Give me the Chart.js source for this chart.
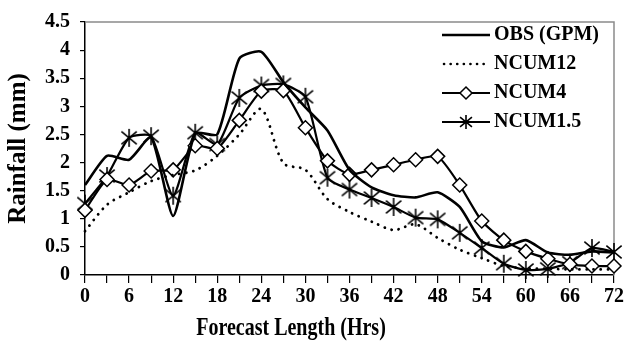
<!DOCTYPE html>
<html><head><meta charset="utf-8">
<script src="https://cdn.jsdelivr.net/npm/chart.js@4"></script>
<style>html,body{margin:0;padding:0;background:#fff}</style>
</head><body>
<canvas id="c" width="627" height="342"></canvas>
<script>
const hours = [0,3,6,9,12,15,18,21,24,27,30,33,36,39,42,45,48,51,54,57,60,63,66,69,72];
const xTickLabels = ['0','6','12','18','24','30','36','42','48','54','60','66','72'];
const yTickLabels = ['0','0.5','1','1.5','2','2.5','3','3.5','4','4.5'];
const seriesNames = ['OBS (GPM)','NCUM12','NCUM4','NCUM1.5'];
const xTitle = 'Forecast Length (Hrs)';
const yTitle = 'Rainfall (mm)';
const obs    = [1.60,2.12,2.05,2.45,1.05,2.52,2.50,3.85,3.97,3.43,2.98,2.57,1.87,1.56,1.42,1.38,1.47,1.21,0.60,0.49,0.62,0.40,0.36,0.42,0.40];
const ncum12 = [0.78,1.25,1.47,1.67,1.78,1.86,2.12,2.50,2.95,1.99,1.87,1.35,1.12,0.95,0.80,0.90,0.66,0.45,0.30,0.16,0.12,0.11,0.10,0.10,0.10];
const ncum4  = [1.15,1.70,1.60,1.85,1.87,2.30,2.25,2.75,3.27,3.28,2.62,2.03,1.79,1.87,1.96,2.05,2.11,1.60,0.96,0.62,0.42,0.29,0.19,0.16,0.16];
const ncum15 = [1.27,1.76,2.44,2.47,1.41,2.53,2.32,3.15,3.37,3.39,3.17,1.73,1.52,1.37,1.21,1.02,0.99,0.75,0.48,0.20,0.09,0.11,0.22,0.48,0.41];

const FONT = "'Liberation Serif','Times New Roman',serif";

function drawStar(g, cx, cy, r, lw) {
  g.save(); g.strokeStyle = '#000'; g.lineWidth = lw;
  g.beginPath();
  g.moveTo(cx, cy - r); g.lineTo(cx, cy + r);
  const dx = r * 0.85, dy = r * 0.7;
  g.moveTo(cx - dx, cy - dy); g.lineTo(cx + dx, cy + dy);
  g.moveTo(cx + dx, cy - dy); g.lineTo(cx - dx, cy + dy);
  g.stroke(); g.restore();
}
function makeStar(size) {
  const c = document.createElement('canvas'); c.width = size; c.height = size;
  drawStar(c.getContext('2d'), size / 2, size / 2, size / 2 - 1, 1.6);
  return c;
}
function makeIcon(kind) {
  const w = 48, h = 20;
  const c = document.createElement('canvas'); c.width = w; c.height = h;
  const g = c.getContext('2d'); g.strokeStyle = '#000';
  const y = h / 2;
  if (kind === 'dot') {
    g.lineWidth = 2.6; g.lineCap = 'round'; g.setLineDash([0.1, 6.5]);
    g.beginPath(); g.moveTo(2, y); g.lineTo(w - 2, y); g.stroke();
  } else {
    g.lineWidth = kind === 'solid' ? 2.6 : 2.2;
    g.beginPath(); g.moveTo(0, y); g.lineTo(w, y); g.stroke();
  }
  if (kind === 'diamond') {
    g.fillStyle = '#fff'; g.lineWidth = 1.5;
    g.beginPath(); g.moveTo(w/2, y - 6); g.lineTo(w/2 + 6, y); g.lineTo(w/2, y + 6); g.lineTo(w/2 - 6, y); g.closePath();
    g.fill(); g.stroke();
  }
  if (kind === 'star') drawStar(g, w / 2, y, 7, 1.6);
  return c;
}
const legendIcons = [makeIcon('solid'), makeIcon('dot'), makeIcon('diamond'), makeIcon('star')];
const starImg = makeStar(20);

function pts(arr) { return hours.map((h, i) => ({x: h, y: arr[i]})); }

const frame = {
  id: 'frame',
  beforeDatasetsDraw(chart) {
    const {ctx, chartArea: a} = chart;
    ctx.save(); ctx.strokeStyle = '#8a8a8a'; ctx.lineWidth = 1.5;
    ctx.beginPath(); ctx.moveTo(a.left, a.top); ctx.lineTo(a.right, a.top); ctx.lineTo(a.right, a.bottom); ctx.stroke();
    ctx.restore();
  }
};
const xTitlePlugin = {
  id: 'xTitlePlugin',
  afterDraw(chart) {
    const ctx = chart.ctx;
    ctx.save();
    ctx.translate(291, 335);
    ctx.scale(1, 1.25);
    ctx.font = 'bold 20px ' + FONT;
    ctx.fillStyle = '#000'; ctx.textAlign = 'center'; ctx.textBaseline = 'alphabetic';
    ctx.fillText(xTitle, 0, 0);
    ctx.restore();
  }
};
const moveLegend = {
  id: 'moveLegend',
  afterLayout(chart) {
    const lg = chart.legend; if (!lg) return;
    const w = lg.width, h = lg.height;
    lg.left = 439; lg.right = lg.left + w;
    lg.top = 16; lg.bottom = lg.top + h;
  }
};

new Chart(document.getElementById('c'), {
  type: 'line',
  data: {
    datasets: [
      { label: seriesNames[0], data: pts(obs), borderColor: '#000', borderWidth: 2.6, pointRadius: 0, tension: 0.2, clip: false },
      { label: seriesNames[1], data: pts(ncum12), borderColor: '#000', borderWidth: 2.8, borderDash: [0.1, 7], borderCapStyle: 'round', pointRadius: 0, tension: 0.3, clip: false },
      { label: seriesNames[2], data: pts(ncum4), borderColor: '#000', borderWidth: 2.2, pointStyle: 'rectRot', pointRadius: 7, pointBackgroundColor: '#fff', pointBorderColor: '#000', pointBorderWidth: 1.5, tension: 0.2, clip: false },
      { label: seriesNames[3], data: pts(ncum15), borderColor: '#000', borderWidth: 2.2, pointStyle: starImg, pointRadius: 9, tension: 0.2, clip: false }
    ]
  },
  options: {
    responsive: false, animation: false, devicePixelRatio: 1,
    layout: { padding: { top: 15, right: 13, left: 0, bottom: 0 } },
    plugins: {
      tooltip: { enabled: false },
      legend: {
        position: 'chartArea', align: 'start',
        labels: {
          usePointStyle: true, pointStyleWidth: 36, padding: 9, color: '#000',
          font: { family: FONT, size: 20, weight: 'bold' },
          generateLabels: (chart) => chart.data.datasets.map((ds, i) => ({
            text: ds.label, pointStyle: legendIcons[i], datasetIndex: i, fontColor: '#000',
            hidden: false, lineWidth: 0, strokeStyle: 'rgba(0,0,0,0)', fillStyle: 'rgba(0,0,0,0)'
          }))
        }
      }
    },
    scales: {
      x: {
        type: 'linear', min: 0, max: 72,
        ticks: { stepSize: 3, autoSkip: false, maxRotation: 0, padding: 2, color: '#000',
          font: { family: FONT, size: 20, weight: 'bold' },
          callback: (v) => xTickLabels.includes(String(v)) ? String(v) : '' },
        grid: { drawOnChartArea: false, drawTicks: true, tickLength: 8, color: '#000', lineWidth: 1.2 },
        border: { color: '#000', width: 1.5 },
        title: { display: false, text: xTitle },
        afterFit: (s) => { s.height = 67; }
      },
      y: {
        min: 0, max: 4.5,
        ticks: { stepSize: 0.5, padding: 10, color: '#000', font: { family: FONT, size: 20, weight: 'bold' },
          callback: (v) => { const s = String(Number(v.toFixed(2))); return yTickLabels.includes(s) ? s : ''; } },
        grid: { drawOnChartArea: false, drawTicks: true, tickLength: 5, color: '#000', lineWidth: 1.2 },
        border: { color: '#000', width: 1.5 },
        title: { display: true, text: yTitle, color: '#000',
          font: { family: FONT, size: 25, weight: 'bold' }, padding: { top: 4, bottom: 0 } },
        afterFit: (s) => { s.width = 85; }
      }
    }
  },
  plugins: [frame, moveLegend, xTitlePlugin]
});
</script>
</body></html>
